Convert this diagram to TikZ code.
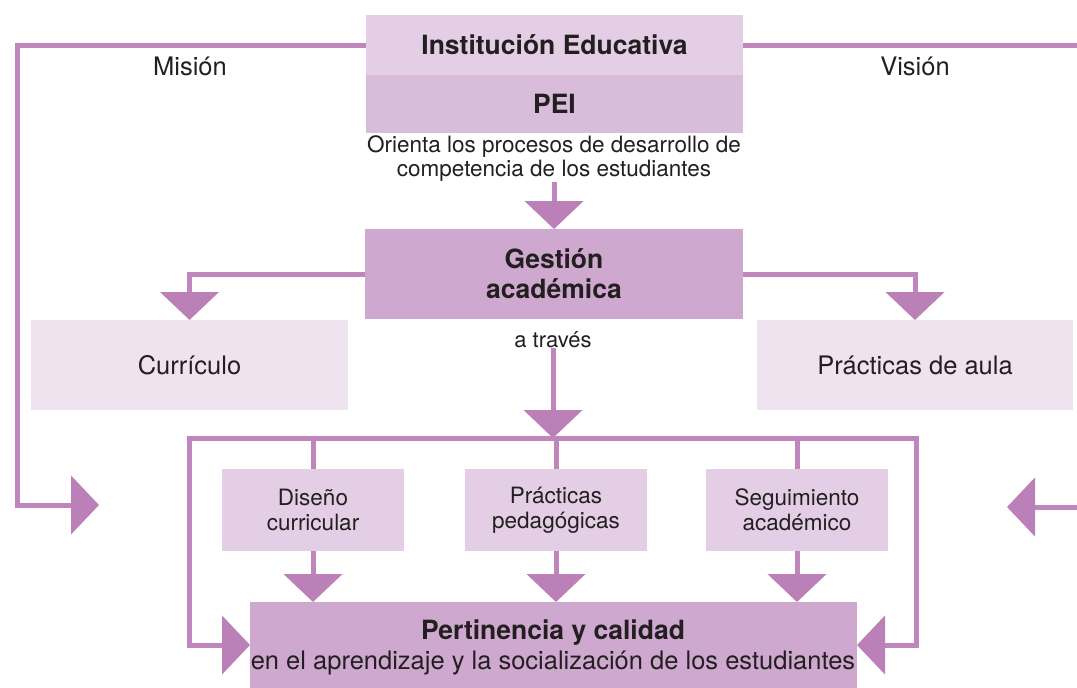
\documentclass[tikz,border=0pt]{standalone}
\usepackage{fontspec}
\setmainfont{TeX Gyre Heros}
\usetikzlibrary{arrows.meta,calc}
\definecolor{lc}{RGB}{191,134,190}
\definecolor{ac}{RGB}{187,128,184}
\definecolor{cA}{RGB}{227,206,229}
\definecolor{cB}{RGB}{216,188,218}
\definecolor{cC}{RGB}{206,168,207}
\definecolor{cD}{RGB}{239,227,240}
\definecolor{tx}{RGB}{35,31,32}
\begin{document}
\begin{tikzpicture}[x=1pt,y=-1pt,
  box/.style={draw=none, inner sep=0pt, outer sep=0pt, text=tx, align=center},
  lbl/.style={inner sep=0pt, outer sep=0pt, text=tx, align=center},
  line/.style={draw=lc, line width=5pt},
  arr/.style={line, -{Triangle[width=58pt,length=28pt,color=ac,fill=ac]}},
  big/.style={font=\fontsize{25.5}{30}\selectfont},
  bigb/.style={font=\fontsize{26.5}{30}\selectfont\bfseries},
  small/.style={font=\fontsize{22.5}{25}\selectfont},
  mid/.style={font=\fontsize{22}{24}\selectfont}]
\useasboundingbox (0,0) rectangle (1077,688);
\fill[white] (0,0) rectangle (1077,688);

% boxes
\node[box, fill=cA, minimum width=377pt, minimum height=60pt, bigb] (inst) at (554.5,45) {Institución Educativa};
\node[box, fill=cB, minimum width=377pt, minimum height=58pt, bigb] (pei) at (554.5,104) {PEI};
\node[lbl, font=\fontsize{22.5}{24}\selectfont] (orienta) at (554,159) {Orienta los procesos de desarrollo de\\competencia de los estudiantes};
\node[box, fill=cC, minimum width=378pt, minimum height=90pt, bigb] (gest) at (554,274) {Gestión\\académica};
\node[box, fill=cD, minimum width=317pt, minimum height=90pt, big] (curr) at (189.5,365) {Currículo};
\node[box, fill=cD, minimum width=316pt, minimum height=90pt, big] (prac) at (915,365) {Prácticas de aula};
\node[lbl, mid] (atraves) at (553,340) {a través};
\node[box, fill=cA, minimum width=182pt, minimum height=82pt, small] (dis) at (313,510) {Diseño\\curricular};
\node[box, fill=cA, minimum width=182pt, minimum height=82pt, small] (ped) at (556,510) {Prácticas\\pedagógicas};
\node[box, fill=cA, minimum width=182pt, minimum height=82pt, small] (seg) at (797,510) {Seguimiento\\académico};
\node[box, fill=cC, minimum width=607pt, minimum height=86pt] (pert) at (553.5,645) {};
\node[lbl, bigb] (pt1) at (553,633) {Pertinencia y calidad};
\node[lbl, big] (pt2) at (553,663) {en el aprendizaje y la socialización de los estudiantes};
\node[lbl, big] (mision) at (190,66) {Misión};
\node[lbl, big] (vision) at (915,66) {Visión};

% coordinates
\coordinate (ml) at (99,505);
\coordinate (re) at (1077,45);
\coordinate (rs) at (1077,507);
\coordinate (rt) at (1007,507);
\coordinate (hub) at (553,438);
\coordinate (bl) at (189,438);
\coordinate (br) at (916,438);

% connectors
\draw[arr] (inst.west) -- (17,45) |- (ml);
\draw[line] (inst.east) -- (re);
\draw[arr] (rs) -- (rt);
\draw[arr] (orienta.south) -- (gest.north);
\draw[arr] (gest.west) -| (curr.north);
\draw[arr] (gest.east) -| (prac.north);
\draw[arr] (atraves.south) -- (hub);
\draw[arr] (hub) -- (bl) |- (pert.west);
\draw[arr] (hub) -- (br) |- (pert.east);
\draw[line] (dis.north |- hub) -- (dis.north);
\draw[line] (ped.north |- hub) -- (ped.north);
\draw[line] (seg.north |- hub) -- (seg.north);
\draw[arr] (dis.south) -- (dis.south |- pert.north);
\draw[arr] (ped.south) -- (ped.south |- pert.north);
\draw[arr] (seg.south) -- (seg.south |- pert.north);
\end{tikzpicture}
\end{document}
